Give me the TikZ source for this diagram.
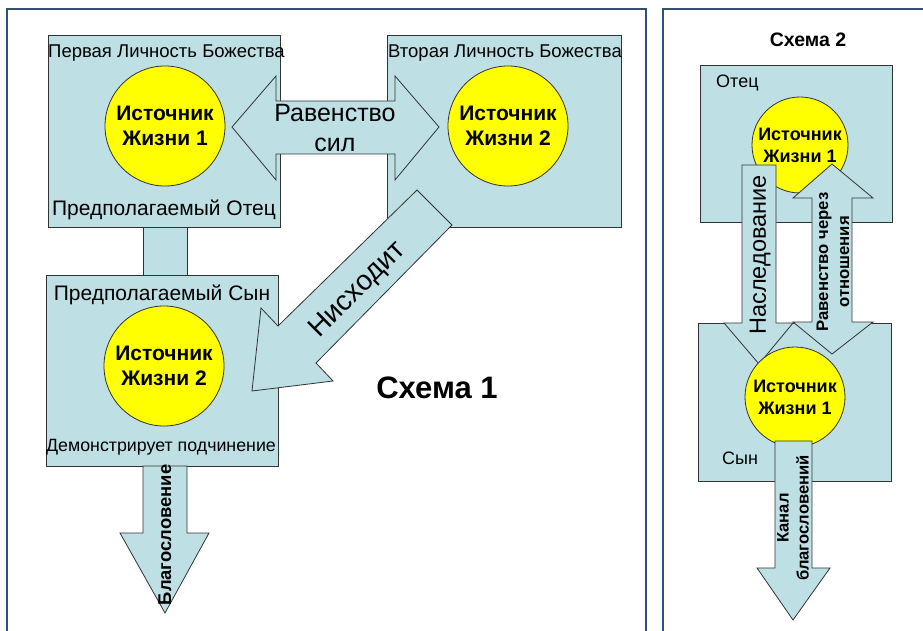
\documentclass[tikz,border=0pt]{standalone}
\usepackage{fontspec}
\setmainfont{Liberation Sans}
\usetikzlibrary{calc}

\definecolor{boxblue}{RGB}{190,224,228}
\definecolor{frameblue}{RGB}{52,80,112}
\definecolor{sunyellow}{RGB}{255,255,0}

\begin{document}
\begin{tikzpicture}[x=1pt,y=-1pt,
        panel/.style={draw=frameblue,line width=2pt},
        box/.style={draw=black!80,fill=boxblue,line width=0.8pt},
        blockarrow/.style={draw=black!80,fill=boxblue,line width=0.8pt,line join=miter},
        source/.style={circle,draw=black!80,fill=sunyellow,line width=0.8pt,inner sep=0pt,align=center},
        label/.style={inner sep=0pt,font=\fontsize{18.5}{20}\selectfont}]
        \useasboundingbox (0,0) rectangle (923,631);
        % frames of the two schemes
        \draw[panel] (7,640) -- (7,9) -- (646,9) -- (646,640);
        \draw[panel] (663,640) -- (663,9) -- (930,9);

        % scheme 1
        \draw[box] (48,35) rectangle (280,227);
        \draw[box] (387,35) rectangle (621,227);
        \draw[box] (143,227) rectangle (187,275);
        \draw[box] (46,275) rectangle (278,466);
        \node[source,minimum size=120pt,font=\bfseries\fontsize{21}{25}\selectfont] (src1) at (165,126) {Источник\\Жизни 1};
        \node[source,minimum size=120pt,font=\bfseries\fontsize{21}{25}\selectfont] (src2) at (508,126) {Источник\\Жизни 2};
        \node[source,minimum size=120pt,font=\bfseries\fontsize{21}{25}\selectfont] (src3) at (164,366) {Источник\\Жизни 2};
        \node[label,anchor=west] (first) at (48,53) {Первая Личность Божества};
        \node[label,anchor=west] (second) at (388,53) {Вторая Личность Божества};
        \node[label,font=\fontsize{21}{23}\selectfont] (father) at (164,210) {Предполагаемый Отец};
        \node[label,font=\fontsize{21}{23}\selectfont] (son) at (162,295) {Предполагаемый Сын};
        \node[label,font=\fontsize{17.8}{20}\selectfont] (obey) at (161,447) {Демонстрирует подчинение};
        \filldraw[blockarrow] (232,127) -- (276,76) -- (276,101) -- (395,101) -- (395,76) -- (439,127)
          -- (395,180) -- (395,154) -- (276,154) -- (276,180) -- cycle;
        \node[label,align=center,font=\fontsize{25}{30}\selectfont] (equal) at (335,128) {Равенство\\сил};
        \filldraw[blockarrow] (417,190) -- (452,225) -- (316,363) -- (333,381) -- (252,391) -- (261,308)
          -- (278,326) -- cycle;
        \node[label,rotate=45,font=\fontsize{28}{30}\selectfont] (down) at (358,290) {Нисходит};
        \filldraw[blockarrow] (143,466) -- (187,466) -- (187,533) -- (209,533) -- (165,613) -- (120,533)
          -- (143,533) -- cycle;
        \node[label,rotate=90,font=\bfseries\fontsize{18.4}{20}\selectfont] (bless) at (165,535) {Благословение};
        \node[label,font=\bfseries\fontsize{31}{34}\selectfont] (title1) at (437,388) {Схема 1};

        % scheme 2
        \node[label,font=\bfseries\fontsize{19.5}{22}\selectfont] (title2) at (808,40) {Схема 2};
        \draw[box] (700,65) rectangle (892,222);
        \draw[box] (698,323) rectangle (891,481);
        \node[label,anchor=west,font=\fontsize{18}{20}\selectfont] (dad) at (716,83) {Отец};
        \node[label,anchor=west,font=\fontsize{18}{20}\selectfont] (boy) at (722,458) {Сын};
        \node[source,minimum size=96pt,font=\bfseries\fontsize{18}{22}\selectfont] (top) at (800,145) {Источник\\Жизни 1};
        \filldraw[blockarrow] (742,165) -- (776,165) -- (776,323) -- (793,323) -- (759,364) -- (724,323)
          -- (742,323) -- cycle;
        \filldraw[blockarrow] (832,164) -- (873,198) -- (852,198) -- (852,322) -- (873,322) -- (832,354)
          -- (793,322) -- (812,322) -- (812,198) -- (793,198) -- cycle;
        \node[label,rotate=90,font=\fontsize{23.5}{25}\selectfont] (inherit) at (760,255) {Наследование};
        \node[label,rotate=90,align=center,font=\bfseries\fontsize{16.7}{21}\selectfont] (rel) at (833,262) {Равенство через\\отношения};
        \node[source,minimum size=100pt,font=\bfseries\fontsize{18}{22}\selectfont] (bottom) at (795,397) {Источник\\Жизни 1};
        \filldraw[blockarrow] (775,441) -- (812,441) -- (812,568) -- (830,568) -- (793,620) -- (757,568)
          -- (775,568) -- cycle;
        \node[label,rotate=90,align=center,font=\bfseries\fontsize{16.6}{20}\selectfont] (canal) at (793,518) {Канал\\благословений};
      \end{tikzpicture}
\end{document}
